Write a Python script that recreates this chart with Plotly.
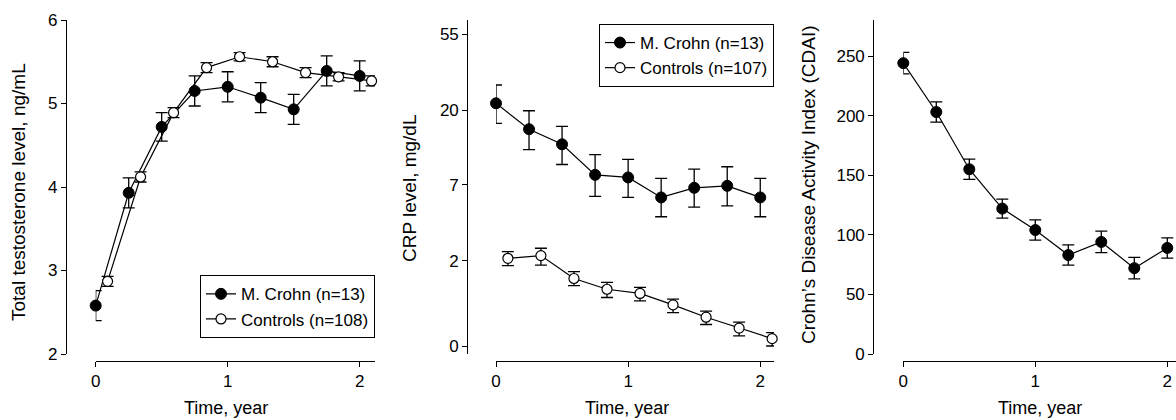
import numpy as np
import plotly.graph_objects as go

W, H = 1176, 420
FONT = "Arial, 'Liberation Sans', sans-serif"

# ---------------- data ----------------
time_cd = [0, 0.25, 0.5, 0.75, 1.0, 1.25, 1.5, 1.75, 2.0]
time_ctrl = [0.09, 0.34, 0.59, 0.84, 1.09, 1.34, 1.59, 1.84, 2.09]

# Panel 1: total testosterone (ng/mL)
testo_cd = [2.58, 3.93, 4.72, 5.15, 5.20, 5.07, 4.93, 5.39, 5.33]
testo_cd_se = [0.18, 0.18, 0.17, 0.18, 0.18, 0.18, 0.18, 0.18, 0.18]
testo_ctrl = [2.87, 4.12, 4.89, 5.43, 5.56, 5.50, 5.37, 5.32, 5.27]
testo_ctrl_se = [0.06, 0.06, 0.06, 0.06, 0.05, 0.06, 0.06, 0.05, 0.06]

# Panel 2: CRP (mg/dL), mean with lower / upper error limits
crp_cd = [21.9, 15.4, 12.5, 8.1, 7.8, 5.8, 6.7, 6.9, 5.8]
crp_cd_lo = [16.7, 11.6, 9.4, 5.9, 5.8, 4.3, 5.0, 5.1, 4.3]
crp_cd_hi = [28.0, 19.8, 16.0, 10.8, 10.1, 7.7, 8.8, 9.1, 7.7]
crp_ctrl = [2.10, 2.21, 1.39, 1.08, 0.97, 0.70, 0.45, 0.26, 0.10]
crp_ctrl_lo = [1.82, 1.84, 1.18, 0.87, 0.79, 0.54, 0.32, 0.14, 0.0]
crp_ctrl_hi = [2.38, 2.53, 1.61, 1.27, 1.13, 0.83, 0.57, 0.36, 0.19]
crp_ticks = [0, 2, 7, 20, 55]

# Panel 3: CDAI
cdai = [244, 203, 155, 122, 104, 83, 94, 72, 89]
cdai_se = [9, 8.5, 8.5, 8, 8.5, 8.5, 9, 9, 8.5]

x_ticks = [0, 1, 2]
legend_cd = "M. Crohn (n=13)"
legend_ctrl_1 = "Controls (n=108)"
legend_ctrl_2 = "Controls (n=107)"

# ---------------- helpers ----------------
def px(x):
    return x / W

def py(y):
    return 1 - y / H

def tr(v):
    return np.log1p(np.asarray(v, dtype=float))

LINE = dict(color="black", width=1.2)
M_CD = dict(symbol="circle", size=11, color="black", line=dict(color="black", width=1))
M_CT = dict(symbol="circle", size=10, color="white", line=dict(color="black", width=1.2))

def err(arr, minus=None):
    d = dict(type="data", array=list(arr), color="black", thickness=1.3, width=6, visible=True)
    if minus is not None:
        d["arrayminus"] = list(minus)
        d["symmetric"] = False
    return d

fig = go.Figure()

# Panel 1
fig.add_trace(go.Scatter(x=time_cd, y=testo_cd, mode="lines+markers", name=legend_cd,
                         line=LINE, marker=M_CD, error_y=err(testo_cd_se),
                         xaxis="x", yaxis="y", legend="legend", cliponaxis=False))
fig.add_trace(go.Scatter(x=time_ctrl, y=testo_ctrl, mode="lines+markers", name=legend_ctrl_1,
                         line=LINE, marker=M_CT, error_y=err(testo_ctrl_se),
                         xaxis="x", yaxis="y", legend="legend", cliponaxis=False))

# Panel 2 (log(1+x) scale)
cd_t = tr(crp_cd)
ct_t = tr(crp_ctrl)
fig.add_trace(go.Scatter(x=time_cd, y=cd_t, mode="lines+markers", name=legend_cd,
                         line=LINE, marker=M_CD,
                         error_y=err(tr(crp_cd_hi) - cd_t, cd_t - tr(crp_cd_lo)),
                         xaxis="x2", yaxis="y2", legend="legend2", cliponaxis=False))
fig.add_trace(go.Scatter(x=time_ctrl, y=ct_t, mode="lines+markers", name=legend_ctrl_2,
                         line=LINE, marker=M_CT,
                         error_y=err(tr(crp_ctrl_hi) - ct_t, ct_t - tr(crp_ctrl_lo)),
                         xaxis="x2", yaxis="y2", legend="legend2", cliponaxis=False))

# Panel 3
fig.add_trace(go.Scatter(x=time_cd, y=cdai, mode="lines+markers", name=legend_cd,
                         line=LINE, marker=M_CD, error_y=err(cdai_se),
                         xaxis="x3", yaxis="y3", showlegend=False, cliponaxis=False))

common = dict(showline=True, linecolor="black", linewidth=1.2, ticks="outside", ticklen=5,
              tickwidth=1.2, tickcolor="black", showgrid=False, zeroline=False,
              tickfont=dict(size=17, color="black", family=FONT), anchor="free",
              automargin=False, fixedrange=True)

ydom = [py(354), py(20)]
xpos = py(360.7)

fig.update_layout(
    width=W, height=H,
    margin=dict(l=0, r=0, t=0, b=0, pad=0, autoexpand=False),
    paper_bgcolor="white", plot_bgcolor="white",
    font=dict(family=FONT, color="black"),
    xaxis=dict(common, domain=[px(95.7), px(375)], range=[0, 2.116], position=xpos,
               tickvals=x_ticks),
    yaxis=dict(common, domain=ydom, range=[2, 6], position=px(66),
               tickvals=[2, 3, 4, 5, 6]),
    xaxis2=dict(common, domain=[px(496), px(774)], range=[0, 2.104], position=xpos,
                tickvals=x_ticks),
    yaxis2=dict(common, domain=ydom, range=[-0.103, 4.206], position=px(467.3),
                tickvals=list(tr(crp_ticks)), ticktext=[str(v) for v in crp_ticks]),
    xaxis3=dict(common, domain=[px(903.3), 1.0], range=[0, 2.066], position=xpos,
                tickvals=x_ticks),
    yaxis3=dict(common, domain=ydom, range=[0, 280.2], position=px(873.3),
                tickvals=[0, 50, 100, 150, 200, 250]),
    legend=dict(x=px(375), xanchor="right", y=py(338.3), yanchor="bottom",
                bordercolor="black", borderwidth=1, bgcolor="white",
                font=dict(size=17, family=FONT, color="black"), tracegroupgap=0),
    legend2=dict(x=px(774), xanchor="right", y=py(24), yanchor="top",
                 bordercolor="black", borderwidth=1, bgcolor="white",
                 font=dict(size=17, family=FONT, color="black"), tracegroupgap=0),
    showlegend=True,
)

ann = []
for xc, yc, txt in [(19, 192, "Total testosterone level, ng/mL"), (410, 188, "CRP level, mg/dL"),
                    (808, 185, "Crohn\u2019s Disease Activity Index (CDAI)")]:
    ann.append(dict(x=px(xc), y=py(yc), xref="paper", yref="paper", text=txt,
                    textangle=-90, showarrow=False, xanchor="center", yanchor="middle",
                    font=dict(size=19, family=FONT, color="black")))
for xc in [226, 627, 1040]:
    ann.append(dict(x=px(xc), y=py(408), xref="paper", yref="paper", text="Time, year",
                    showarrow=False, xanchor="center", yanchor="middle",
                    font=dict(size=18, family=FONT, color="black")))
fig.update_layout(annotations=ann)

fig.write_html("out.html", post_script="document.body.style.margin='0px';",
               config={"displayModeBar": False})
